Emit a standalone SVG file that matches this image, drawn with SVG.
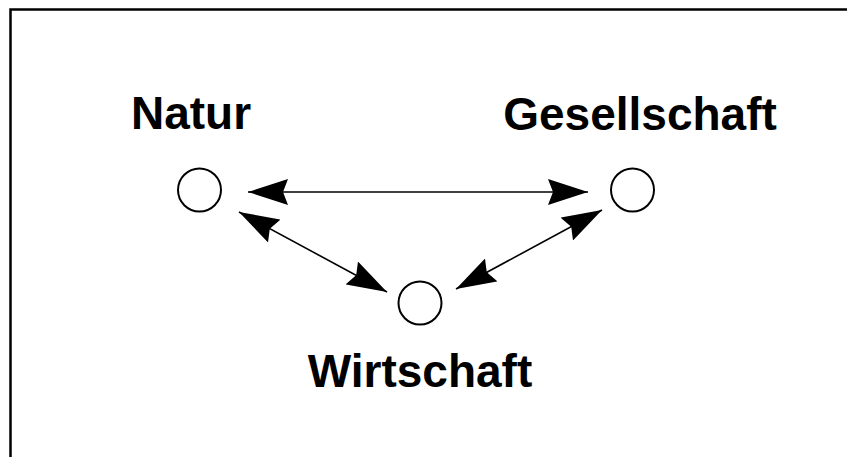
<svg xmlns="http://www.w3.org/2000/svg" width="847" height="457" viewBox="0 0 847 457">
<style>
.lbl{font-family:"Liberation Sans",Arial,sans-serif;font-weight:bold;font-size:46px;fill:#000;text-anchor:middle}
.node{fill:#fff;stroke:#000;stroke-width:2}
.conn{stroke:#000;stroke-width:1.6;fill:none}
</style>
<defs>
<marker id="ah" viewBox="0 0 40 26" refX="40" refY="13" markerWidth="40" markerHeight="26" markerUnits="userSpaceOnUse" orient="auto-start-reverse">
<path d="M0,0 L40,13 L0,26 L5,13 z" fill="#000"/>
</marker>
</defs>
<rect x="10.5" y="9.5" width="900" height="500" fill="#fff" stroke="#000" stroke-width="2.5"/>
<g id="connectors">
<line class="conn" x1="248" y1="192" x2="588" y2="192" marker-start="url(#ah)" marker-end="url(#ah)"/>
<line class="conn" x1="239" y1="212" x2="387" y2="292" marker-start="url(#ah)" marker-end="url(#ah)"/>
<line class="conn" x1="602" y1="210" x2="456" y2="289" marker-start="url(#ah)" marker-end="url(#ah)"/>
</g>
<g id="natur">
<circle class="node" cx="199.5" cy="190" r="21.5"/>
<text class="lbl" x="191" y="129">Natur</text>
</g>
<g id="gesellschaft">
<circle class="node" cx="632.5" cy="190" r="21.5"/>
<text class="lbl" x="640" y="130">Gesellschaft</text>
</g>
<g id="wirtschaft">
<circle class="node" cx="420" cy="303" r="21.5"/>
<text class="lbl" x="420" y="387">Wirtschaft</text>
</g>
</svg>
